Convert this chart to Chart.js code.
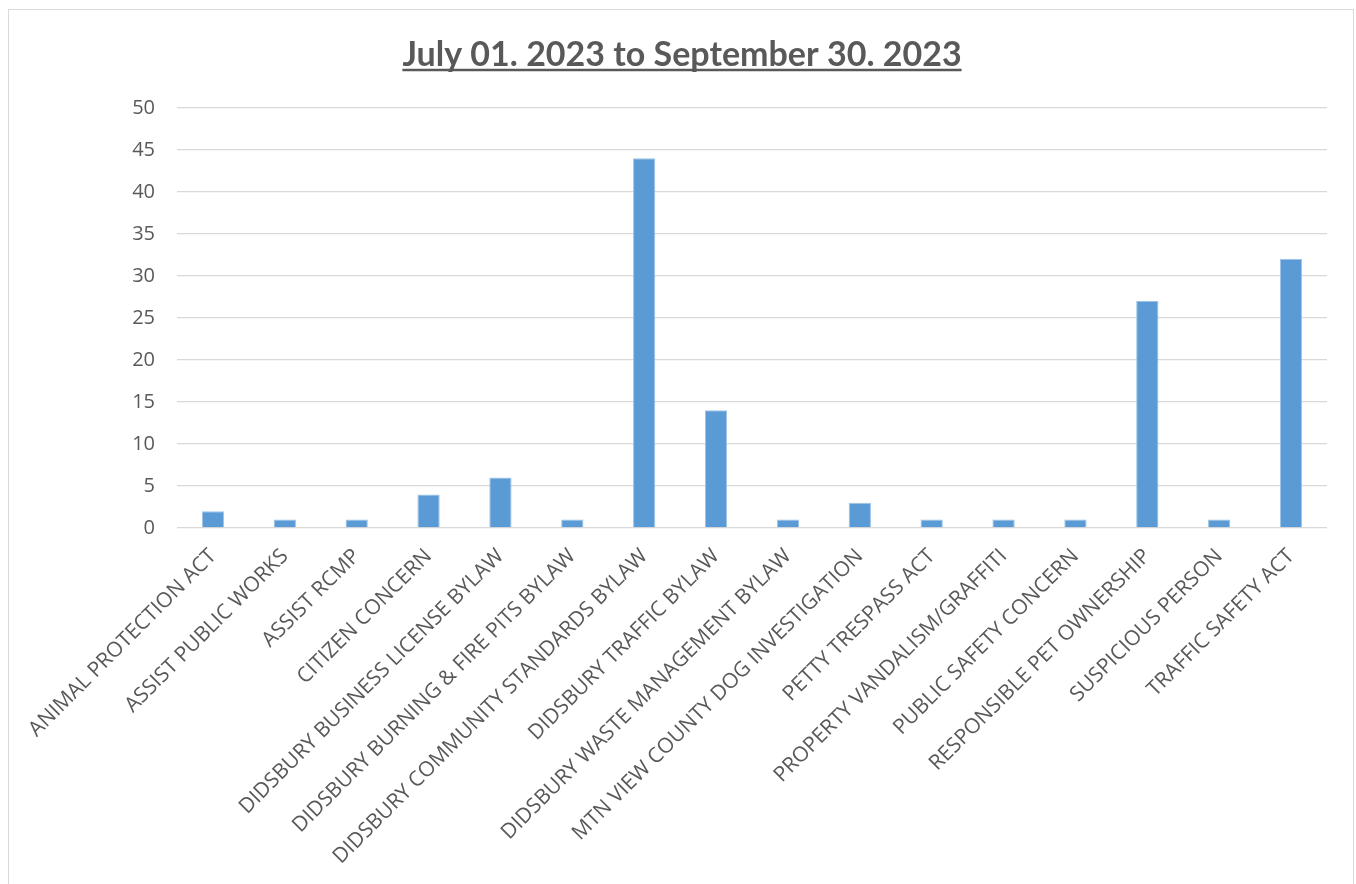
<!DOCTYPE html>
<html>
<head>
<meta charset="utf-8">
<script src="https://cdn.jsdelivr.net/npm/chart.js@4"></script>
<style>
  html, body { margin: 0; padding: 0; background: #fff; }
  #wrap { position: relative; width: 1356px; height: 884px; overflow: hidden; }
  #frame { position: absolute; left: 8px; top: 9px; width: 1346px; height: 900px; border: 1px solid #d9d9d9; box-sizing: border-box; }
  #chart { position: absolute; left: 0; top: 0; }
</style>
</head>
<body>
<div id="wrap">
  <div id="frame"></div>
  <canvas id="chart" width="1356" height="884"></canvas>
</div>
<script>
const titleText = 'July 01. 2023 to September 30. 2023';

const categories = [
    'ANIMAL PROTECTION ACT',
    'ASSIST PUBLIC WORKS',
    'ASSIST RCMP',
    'CITIZEN CONCERN',
    'DIDSBURY BUSINESS LICENSE BYLAW',
    'DIDSBURY BURNING & FIRE PITS BYLAW',
    'DIDSBURY COMMUNITY STANDARDS BYLAW',
    'DIDSBURY TRAFFIC BYLAW',
    'DIDSBURY WASTE MANAGEMENT BYLAW',
    'MTN VIEW COUNTY DOG INVESTIGATION',
    'PETTY TRESPASS ACT',
    'PROPERTY VANDALISM/GRAFFITI',
    'PUBLIC SAFETY CONCERN',
    'RESPONSIBLE PET OWNERSHIP',
    'SUSPICIOUS PERSON',
    'TRAFFIC SAFETY ACT'
];

const counts = [2, 1, 1, 4, 6, 1, 44, 14, 1, 3, 1, 1, 1, 27, 1, 32];

const yTicks = [0, 5, 10, 15, 20, 25, 30, 35, 40, 45, 50];

const titleFont = { family: 'Lato', size: 34, weight: 'bold' };
const tickFont = { family: 'Open Sans', size: 20 };
const labelFont = { family: 'Open Sans', size: 21 };

// chart.js has no underline for titles, so draw one under it
const underlineTitle = {
    id: 'underlineTitle',
    afterDraw(chart) {
        const tb = chart.titleBlock;
        if (!tb) return;
        const c = chart.ctx;
        c.save();
        c.font = `bold ${titleFont.size}px ${titleFont.family}`;
        const w = c.measureText(titleText).width;
        const cx = tb.left + tb.width / 2;
        const y = tb.top + 35;
        c.strokeStyle = '#595959';
        c.lineWidth = 2.5;
        c.beginPath();
        c.moveTo(cx - w / 2, y);
        c.lineTo(cx + w / 2, y);
        c.stroke();
        c.restore();
    }
};

function buildChart() {
    const ctx = document.getElementById('chart').getContext('2d');

    new Chart(ctx, {
        type: 'bar',
        data: {
            labels: categories,
            datasets: [{
                data: counts,
                backgroundColor: '#5b9bd5',
                borderColor: '#9dc3e6',
                borderWidth: 1,
                categoryPercentage: 1,
                barPercentage: 0.31
            }]
        },
        options: {
            responsive: false,
            animation: false,
            layout: {
                padding: { top: 35, left: 37, right: 29, bottom: 0 }
            },
            plugins: {
                legend: { display: false },
                tooltip: { enabled: false },
                title: {
                    display: true,
                    text: titleText,
                    color: '#595959',
                    font: titleFont,
                    padding: { top: 0, bottom: 32 }
                }
            },
            scales: {
                x: {
                    grid: { display: false },
                    border: { display: false },
                    afterFit: (axis) => { axis.height = 356; },
                    ticks: {
                        color: '#595959',
                        font: labelFont,
                        maxRotation: 45,
                        minRotation: 45,
                        autoSkip: false,
                        padding: 8
                    }
                },
                y: {
                    min: 0,
                    max: 50,
                    afterBuildTicks: (axis) => {
                        axis.ticks = yTicks.map(v => ({ value: v }));
                    },
                    afterFit: (axis) => { axis.width = 140; },
                    grid: { color: '#d9d9d9', lineWidth: 1.3, drawTicks: false },
                    border: { display: false },
                    ticks: {
                        color: '#595959',
                        font: tickFont,
                        padding: 22
                    }
                }
            }
        },
        plugins: [underlineTitle]
    });
}

Promise.all([
    document.fonts.load('bold 34px Lato'),
    document.fonts.load('20px "Open Sans"')
]).then(buildChart, buildChart);
</script>
</body>
</html>
